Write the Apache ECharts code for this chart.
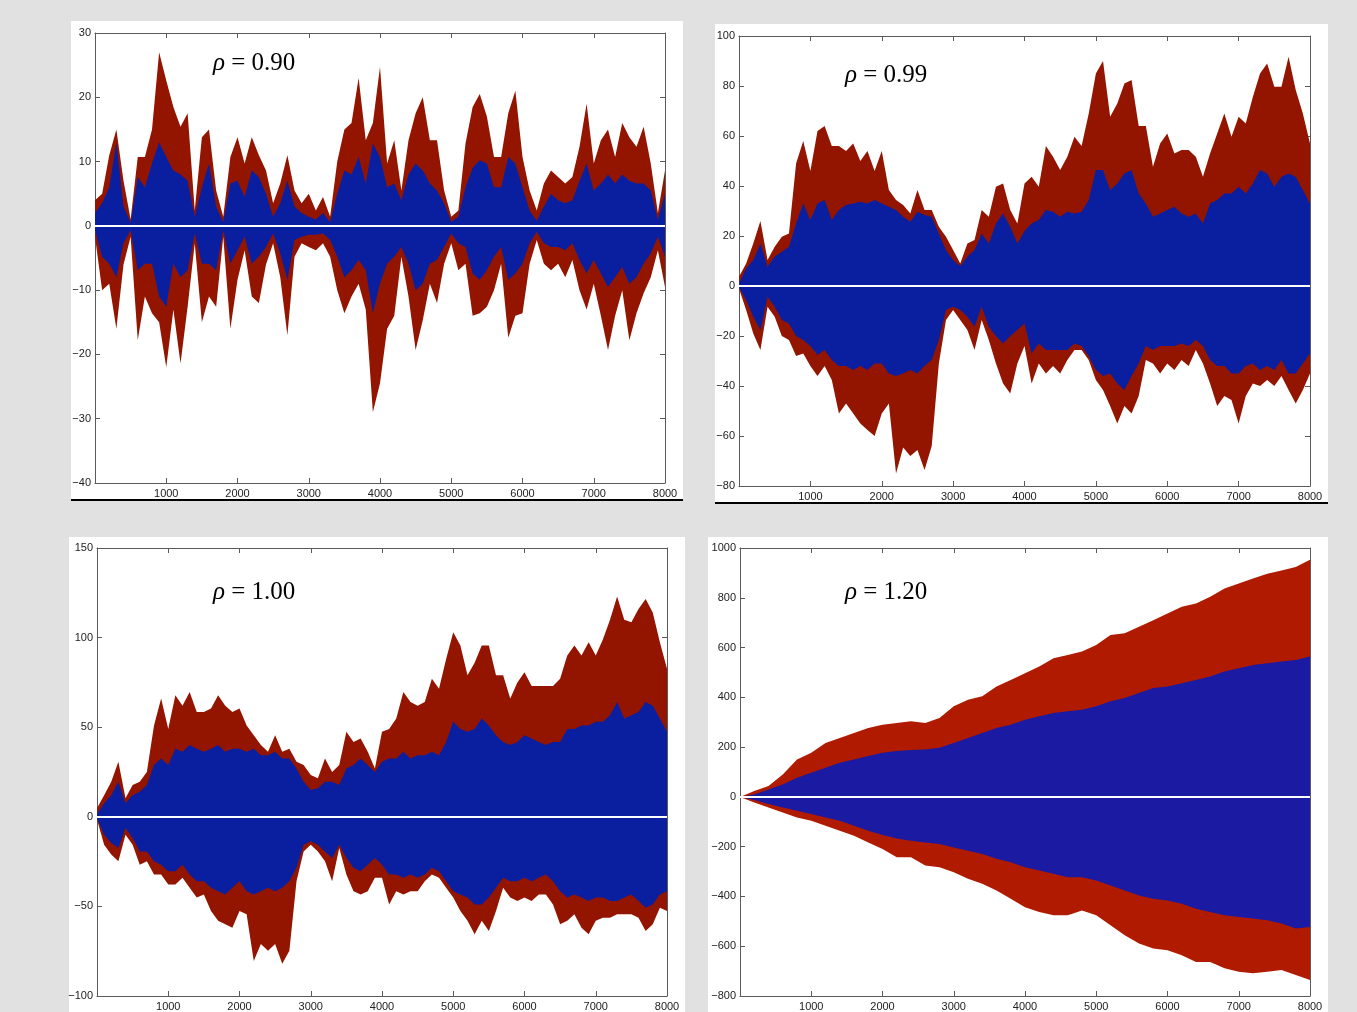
<!DOCTYPE html>
<html>
<head>
<meta charset="utf-8">
<script src="https://cdn.jsdelivr.net/npm/echarts@6/dist/echarts.min.js"></script>
<style>
  html, body { margin: 0; padding: 0; background: #e1e1e1; }
  #main { width: 1357px; height: 1012px; }
</style>
</head>
<body>
<div id="main"></div>
<script>
// envelopes, one value per 100 steps (rho = 1.20: per 200)
const p1RedTop = [4, 5, 11, 15, 7, 1, 10.7, 10.7, 15, 27,
  22.6, 18.5, 15.4, 17.5, 2.4, 13.8, 15, 5.5, 1.4, 10.7,
  13.8, 9.7, 13.8, 11, 8.6, 3.5, 6.6, 11, 5.5, 3.5,
  5, 2.4, 4.5, 1.4, 10, 15, 16, 23, 13.3, 16,
  24.7, 9.7, 13.3, 5.5, 13.3, 17.5, 20, 13.3, 13.3, 5.5,
  1.4, 2.4, 12.8, 18.5, 20.5, 17, 10.7, 10.7, 17.5, 21,
  10.7, 5.5, 2.4, 6.6, 8.6, 7.6, 6.6, 7.6, 12.3, 19,
  9.7, 13.3, 15, 10.7, 16, 13.8, 12.3, 15.4, 9.7, 2,
  8.6]
const p1BlueTop = [2, 3.5, 6, 13, 3, 0.5, 7.6, 6, 9.7, 13,
  10.7, 8.6, 8, 7, 1.4, 6, 9.7, 3, 0.6, 6.6,
  7, 4.5, 8.6, 7.6, 5, 1.4, 3.5, 7, 3, 2,
  1.4, 1, 2, 0.6, 5, 8.6, 8, 10.7, 6.6, 12.8,
  10.7, 6, 6.6, 4, 8, 9.7, 8.6, 6.6, 5.5, 3.5,
  0.6, 1.4, 6, 9, 10.2, 9.7, 6, 6, 10.7, 9.7,
  6, 2.4, 0.8, 3, 5, 4, 3.5, 4, 7, 9.7,
  5.5, 6.6, 8, 6.6, 8, 7, 6.6, 6.6, 5.5, 1,
  5]
const p1RedBot = [-1.7, -10, -9, -16, -6, -1.7, -17.8, -11, -13.6, -15,
  -22, -13, -21.4, -12.6, -2.7, -15, -11, -12.6, -1.7, -16,
  -8.4, -3.8, -11, -12, -6, -2.7, -8, -17, -4.8, -2.7,
  -3.3, -3.8, -2.7, -4.8, -10, -13.6, -11, -9, -13, -29,
  -24.5, -16, -14, -4.8, -11, -19.3, -14.7, -9, -12, -5.9,
  -2.7, -6.9, -5.9, -14, -13.6, -12.6, -10, -5.9, -17.4, -14,
  -13.6, -5.9, -2.2, -5.9, -6.9, -5.9, -8, -5.3, -10, -13,
  -9, -14, -19.3, -14, -10, -17.8, -13.6, -10.5, -8, -3.8,
  -9.5]
const p1BlueBot = [-0.7, -4.8, -5.9, -8, -2.7, -0.7, -6.9, -5.9, -5.9, -11,
  -12.6, -5.9, -8, -6.9, -1.2, -5.9, -5.9, -6.9, -0.7, -5.9,
  -3.8, -1.7, -5.9, -4.8, -3.3, -1.2, -4.3, -8.4, -2.2, -1.7,
  -1.4, -1.4, -1.2, -2.2, -4.8, -8, -6.9, -5.3, -6.9, -13.6,
  -9, -5.9, -4.8, -3.3, -5.9, -10, -9, -5.9, -5.3, -3.3,
  -1.2, -2.7, -3.3, -7.4, -8.4, -6.9, -4.8, -3.3, -8.4, -7.4,
  -5.9, -2.7, -0.9, -2.7, -3.3, -3.3, -3.8, -2.7, -5.3, -7.4,
  -5.3, -7.4, -9.5, -8, -6.4, -9, -8, -5.9, -4.3, -1.7,
  -4.8]

const p2RedTop = [3.7, 9, 17, 26, 10.4, 15.7, 19.7, 21, 49, 58,
  46, 62, 64, 56, 56, 54, 57, 50, 54, 46,
  54, 38.4, 34.4, 32.4, 29, 38.4, 30.4, 30.4, 23.7, 19.7,
  14.4, 9, 17, 18.4, 30.4, 27.7, 39.7, 41, 30.4, 25,
  41, 43.7, 39.7, 56, 51.7, 46.4, 51.7, 59.7, 56, 69,
  85, 90, 67.7, 73, 81, 82.4, 64, 64, 47.7, 57,
  61, 53, 54.4, 54.4, 51.7, 43.7, 53, 61, 69, 59.7,
  67.7, 65, 75.7, 85, 89, 79.7, 79.7, 91.7, 78.4, 69,
  57]
const p2BlueTop = [1, 7, 10.4, 17, 7.7, 11.7, 13.7, 15.7, 25, 33,
  26.4, 33, 34.4, 26.4, 30.4, 32.4, 33, 33.7, 33, 34.4,
  33, 31.7, 30.4, 27.7, 25.7, 29.7, 28.4, 27.7, 21, 14.4,
  10.4, 8, 11.7, 14.4, 21, 17, 25, 29, 23.7, 17,
  22, 25, 26.4, 30.4, 29.7, 27.7, 29.7, 29, 29.7, 34.4,
  46.4, 46.4, 38.4, 41, 45, 46.4, 37, 33, 27.7, 29,
  30.4, 31.7, 29, 27.7, 29, 25, 33, 34.4, 37, 37,
  39.7, 37, 41, 46.4, 45, 39.7, 43.7, 45, 43.7, 38.4,
  33]
const p2RedBot = [-1, -9.6, -19, -25.6, -8.3, -12.3, -20, -21.6, -28, -27,
  -32, -36, -32, -37.6, -51, -47, -51, -55, -57.6, -60,
  -51, -47, -75, -64.6, -68, -65.6, -73.6, -64, -31, -13.6,
  -9.6, -13.6, -17.6, -25.6, -13.6, -21.6, -31, -39, -43, -31,
  -24, -39, -31, -35, -32, -35, -29.6, -25.6, -25.6, -29.6,
  -37.6, -41.6, -48, -55, -48, -51, -44, -29.6, -31, -35,
  -31, -33.6, -29.6, -32, -25.6, -31, -39, -48, -44, -45.6,
  -55, -44, -39, -40, -37.6, -40, -36, -41.6, -47, -41.6,
  -35]
const p2BlueBot = [-0.5, -5.6, -12.3, -17.6, -4.3, -8.3, -13.6, -15, -20, -21.6,
  -24, -27.6, -25.6, -29.6, -32, -32, -33.6, -32, -33.6, -31,
  -31, -35, -36, -35, -33.6, -35, -32, -29.6, -21.6, -9.6,
  -8.3, -9.6, -12.3, -16.3, -8.3, -16.3, -20, -23, -20, -17.6,
  -15, -27, -23, -25.6, -25.6, -25.6, -25.6, -23, -24, -28,
  -33.6, -36, -35, -39, -41.6, -36, -31, -24, -25.6, -24,
  -24, -24, -23, -24, -21.6, -24, -29.6, -32, -32, -35,
  -35, -32, -31, -33.6, -32, -33.6, -29.6, -35, -35, -31,
  -27]

const p3RedTop = [4.8, 12, 19.6, 30.7, 10.4, 17.8, 19.6, 25, 51, 66,
  49, 67.8, 62, 69.6, 58.5, 58.5, 60.4, 67.8, 62, 58.5,
  60.4, 51, 45.5, 40, 36.3, 45.5, 36.3, 38, 30.7, 28.9,
  23.3, 21.5, 32.6, 25, 28.9, 47.4, 41.8, 43.7, 36.3, 27,
  47.4, 49, 54.8, 69.6, 64, 62, 64, 77, 71.5, 88,
  103, 95.6, 79, 86, 95.6, 95.6, 79, 79, 66, 75,
  80.7, 73, 73, 73, 73, 77, 90, 95.6, 90, 97.4,
  90, 99, 110, 123, 110, 108.5, 116, 121.5, 114, 97.4,
  82.6]
const p3BlueTop = [1.5, 7.6, 12, 19.6, 7.6, 12, 14, 17.8, 28.9, 32.6,
  28.9, 38, 36.3, 40, 38, 36.3, 38, 40, 36.3, 38,
  38, 36.3, 38, 34.4, 34.4, 36.3, 32.6, 32.6, 27, 19.6,
  15, 16, 19.6, 19.6, 17.8, 27, 28.9, 32.6, 28.9, 25,
  30.7, 32.6, 32.6, 36.3, 32.6, 34.4, 34.4, 36.3, 34.4, 41.8,
  53, 49, 47.4, 49, 54.8, 51, 45.5, 41.8, 40, 41.8,
  45.5, 43.7, 41.8, 40, 41.8, 41.8, 49, 49, 51, 51,
  53, 53, 56.7, 64, 54.8, 56.7, 58.5, 64, 62, 54.8,
  47.4]
const p3RedBot = [-1.5, -15.6, -21, -24.8, -10, -15.6, -26.7, -24.8, -32.2, -32.2,
  -37.8, -37.8, -34, -39.6, -45, -43.3, -52.6, -58, -60, -61.9,
  -52.6, -54.4, -80.4, -71, -74.8, -71, -82, -74.8, -36, -19.3,
  -15.6, -19.3, -24.8, -36, -17.4, -32.2, -41.5, -43.3, -41.5, -34,
  -34, -48.9, -41.5, -43.3, -41.5, -41.5, -36, -32.2, -34, -39.6,
  -45, -52.6, -58, -65.6, -58, -63.7, -52.6, -39.6, -45, -47,
  -45, -47, -43.3, -43.3, -48.9, -60, -58, -54.4, -61.9, -65.6,
  -58, -56.3, -56.3, -54.4, -54.4, -54.4, -56.3, -63.7, -60, -50.7,
  -52.6]
const p3BlueBot = [-0.8, -10, -14.6, -17.4, -6.3, -11.9, -19.3, -19.3, -24.8, -26.7,
  -30.4, -30.4, -26.7, -32.2, -36, -36, -39.6, -41.5, -43.3, -39.6,
  -36, -41.5, -43.3, -41.5, -39.6, -41.5, -39.6, -36, -28.5, -15.6,
  -13.7, -15.6, -19.3, -23, -15.6, -23, -28.5, -30.4, -26.7, -23,
  -26.7, -32.2, -32.2, -34, -32.2, -34, -32.2, -28.5, -30.4, -36,
  -41.5, -43.3, -45, -48.9, -48.9, -45, -39.6, -34, -36, -36,
  -34, -36, -34, -32.2, -36, -41.5, -45, -43.3, -45, -47,
  -45, -45, -47, -47, -45, -43.3, -47, -50.7, -48.9, -43.3,
  -41.5]

const p4RedTop = [0, 24, 44, 90, 150, 177, 217, 237, 257, 277,
  290, 297, 304, 297, 317, 364, 390, 404, 444, 470,
  497, 524, 557, 570, 584, 610, 650, 657, 684, 710,
  737, 764, 777, 804, 837, 857, 877, 897, 910, 924,
  953]
const p4BlueTop = [0, 10, 30, 50, 77, 97, 117, 137, 150, 164,
  177, 184, 188, 190, 197, 217, 237, 257, 277, 290,
  310, 324, 337, 344, 350, 364, 384, 397, 417, 437,
  444, 457, 470, 484, 504, 517, 530, 537, 544, 550,
  564]
const p4RedBot = [0, -23, -43, -63, -83, -96, -116, -136, -156, -183,
  -209, -243, -243, -276, -283, -303, -329, -349, -376, -409,
  -443, -463, -476, -476, -456, -476, -516, -556, -589, -609,
  -616, -636, -663, -663, -689, -703, -709, -703, -696, -716,
  -736]
const p4BlueBot = [0, -12, -29, -43, -56, -69, -83, -96, -116, -136,
  -153, -167, -176, -183, -189, -203, -216, -229, -249, -263,
  -283, -296, -309, -323, -323, -336, -356, -376, -396, -409,
  -416, -429, -449, -463, -476, -483, -489, -496, -509, -529,
  -523]

const rhoLabels = ['0.90', '0.99', '1.00', '1.20']
const xTicks = [0, 8000, 1000]
const yTicks = [[-40, 30, 10], [-80, 100, 20], [-100, 150, 50], [-800, 1000, 200]]

const panels = [
  { step: 100, grid: { left: 95, top: 33, width: 570, height: 450 }, box: [71, 21, 612, 479], rule: 500,
    text: [213, 63], red: '#931500', blue: '#0a1fa0', d: [p1RedTop, p1BlueTop, p1RedBot, p1BlueBot] },
  { step: 100, grid: { left: 739, top: 36, width: 571, height: 450 }, box: [715, 24, 613, 479], rule: 503,
    text: [845, 75], red: '#931500', blue: '#0a1fa0', d: [p2RedTop, p2BlueTop, p2RedBot, p2BlueBot] },
  { step: 100, grid: { left: 97, top: 548, width: 570, height: 449 }, box: [69, 537, 616, 475], rule: null,
    text: [213, 592], red: '#931500', blue: '#0a1fa0', d: [p3RedTop, p3BlueTop, p3RedBot, p3BlueBot] },
  { step: 200, grid: { left: 740, top: 548, width: 570, height: 450 }, box: [708, 537, 620, 475], rule: null,
    text: [845, 592], red: '#b01b00', blue: '#1a1aa2', d: [p4RedTop, p4BlueTop, p4RedBot, p4BlueBot] }
]

const axisGray = '#5a5a5a'
const labelFont = { fontFamily: 'Liberation Sans, Arial, sans-serif', fontSize: 11, color: '#222' }

function minus(v) {
  return v < 0 ? '\u2212' + (-v) : String(v)
}

const grids = []
const xAxes = []
const yAxes = []
const series = []
const graphics = []

panels.forEach((p, i) => {
  grids.push(p.grid)
  const [xmin, xmax, xint] = xTicks
  const [ymin, ymax, yint] = yTicks[i]
  const common = {
    gridIndex: i, type: 'value',
    axisLine: { show: true, onZero: false, lineStyle: { color: axisGray, width: 1 } },
    axisTick: { show: true, inside: true, length: 5, lineStyle: { color: axisGray } },
    splitLine: { show: false }
  }
  xAxes.push(Object.assign({}, common, {
    position: 'bottom', min: xmin, max: xmax, interval: xint,
    axisLabel: Object.assign({ margin: 5, formatter: v => (v === 0 ? '' : String(v)) }, labelFont)
  }))
  xAxes.push(Object.assign({}, common, {
    position: 'top', min: xmin, max: xmax, interval: xint, axisLabel: { show: false }
  }))
  yAxes.push(Object.assign({}, common, {
    position: 'left', min: ymin, max: ymax, interval: yint,
    axisLabel: Object.assign({ margin: 4, formatter: minus }, labelFont)
  }))
  yAxes.push(Object.assign({}, common, {
    position: 'right', min: ymin, max: ymax, interval: yint, axisLabel: { show: false }
  }))

  const colors = [p.red, p.blue, p.red, p.blue]
  p.d.forEach((vals, k) => {
    series.push({
      type: 'line',
      xAxisIndex: 2 * i, yAxisIndex: 2 * i,
      data: vals.map((v, j) => [j * p.step, v]),
      showSymbol: false, silent: true, animation: false,
      lineStyle: { width: 0 },
      areaStyle: { color: colors[k], opacity: 1, origin: 0 },
      markLine: k === 3 ? {
        silent: true, symbol: 'none', label: { show: false }, animation: false,
        lineStyle: { color: '#fff', width: 2, type: 'solid' },
        data: [{ yAxis: 0 }]
      } : undefined
    })
  })

  graphics.push({
    type: 'rect', z: -10,
    shape: { x: p.box[0], y: p.box[1], width: p.box[2], height: p.box[3] },
    style: { fill: '#fff' }
  })
  if (p.rule) {
    graphics.push({
      type: 'line', z: -5,
      shape: { x1: p.box[0], y1: p.rule, x2: p.box[0] + p.box[2], y2: p.rule },
      style: { stroke: '#000', lineWidth: 2 }
    })
  }
  graphics.push({
    type: 'text', z: 100, x: p.text[0], y: p.text[1],
    style: {
      text: '{r|\u03c1} = ' + rhoLabels[i],
      font: '25px "Liberation Serif", "Times New Roman", serif',
      fill: '#000', verticalAlign: 'middle',
      rich: { r: { fontStyle: 'italic', fontFamily: 'Liberation Serif', fontSize: 25 } }
    }
  })
})

const chart = echarts.init(document.getElementById('main'))
chart.setOption({
  backgroundColor: '#e1e1e1',
  animation: false,
  grid: grids,
  xAxis: xAxes,
  yAxis: yAxes,
  series: series,
  graphic: { elements: graphics }
})
</script>
</body>
</html>
